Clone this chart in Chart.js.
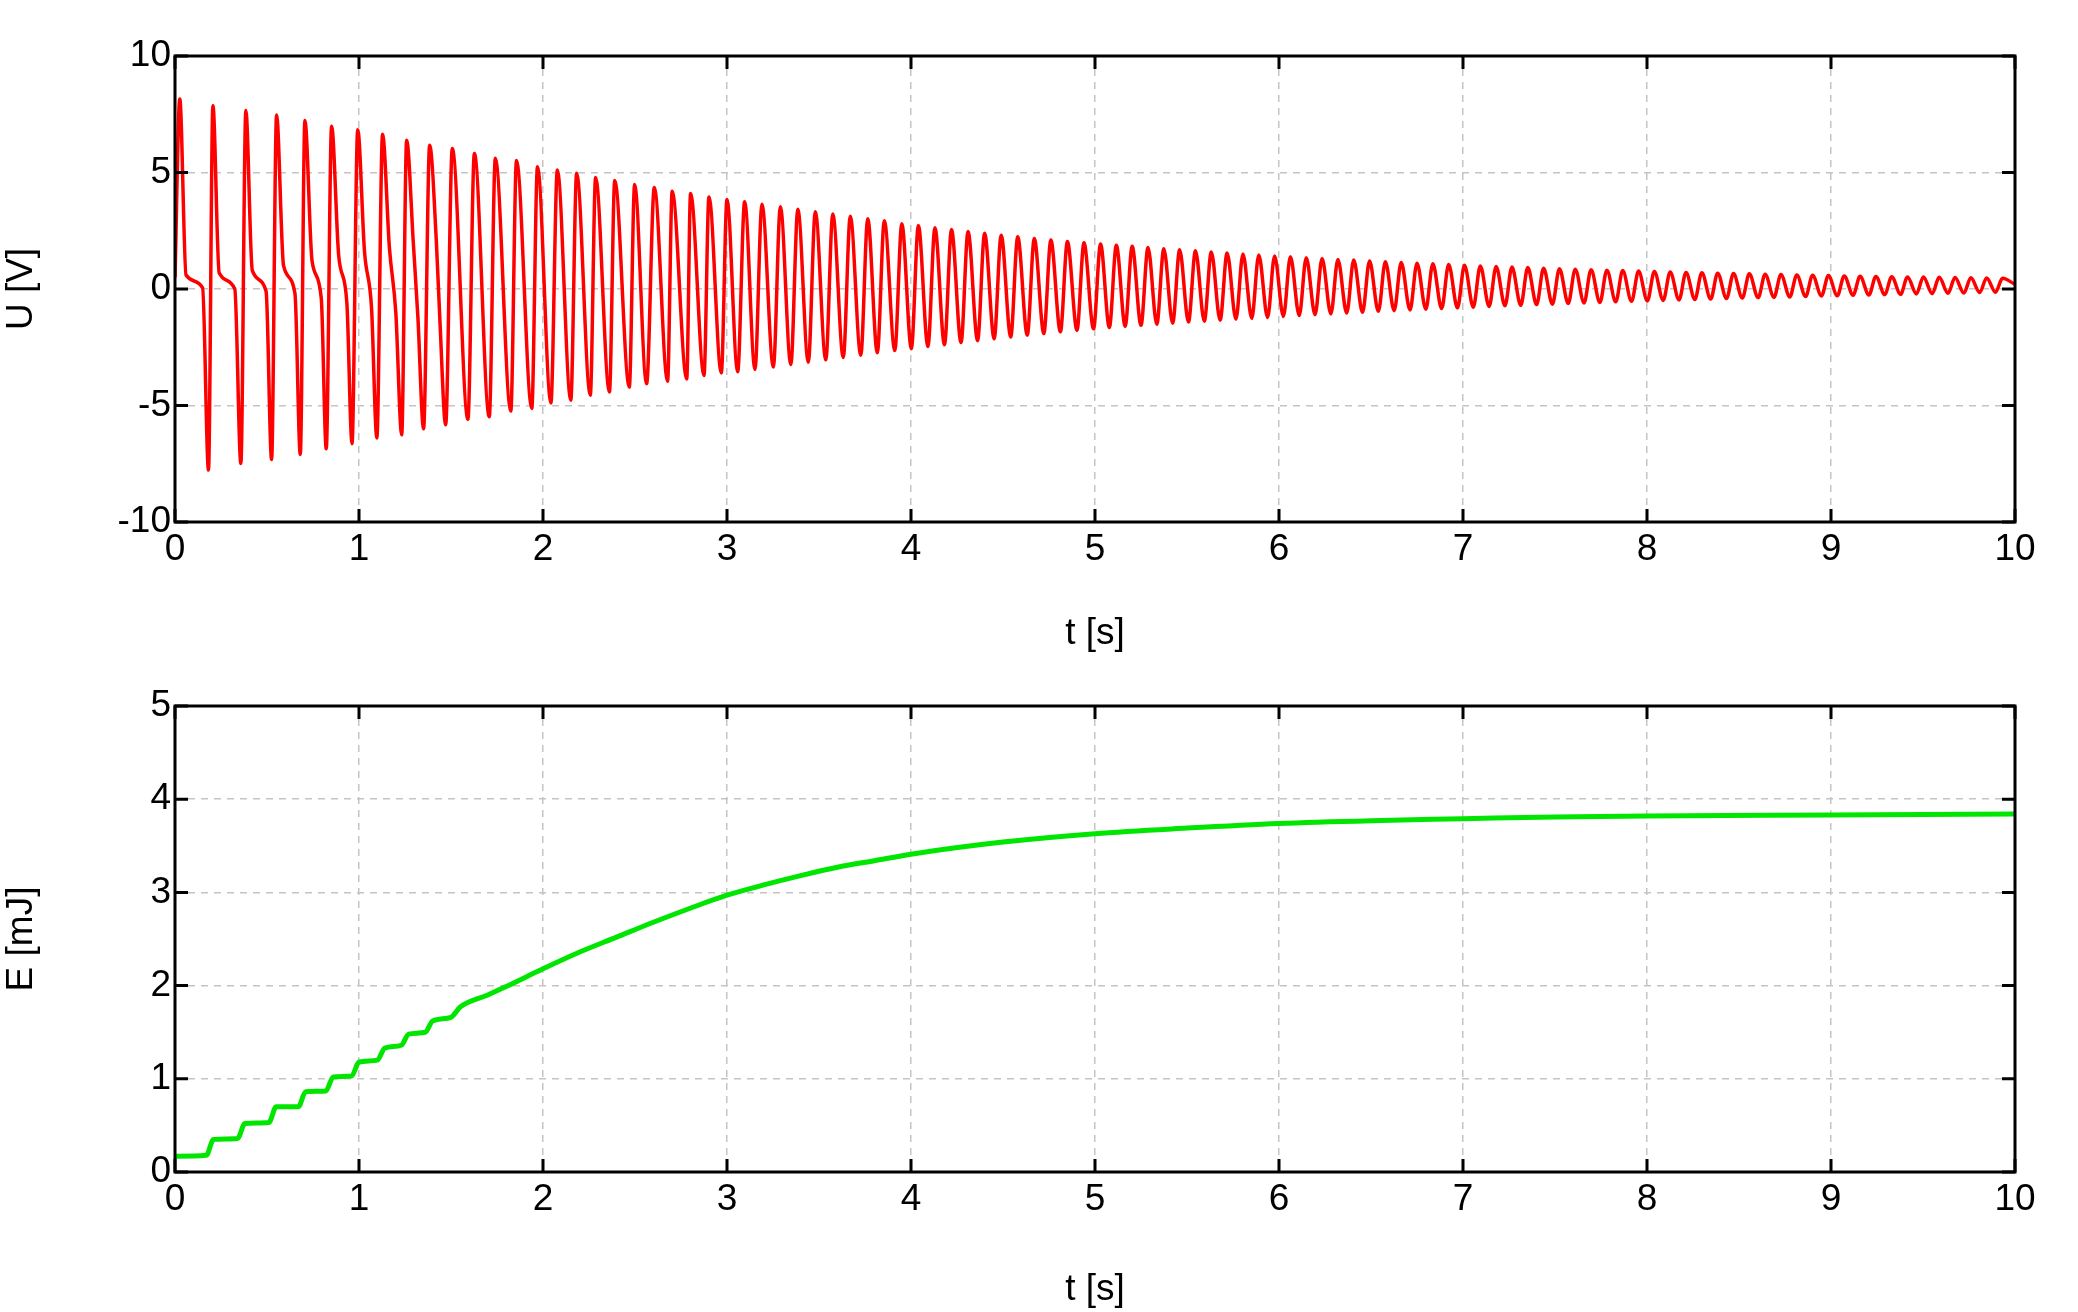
<!DOCTYPE html>
<html>
<head>
<meta charset="utf-8">
<script src="https://cdn.jsdelivr.net/npm/chart.js@4.4.1/dist/chart.umd.min.js"></script>
<style>
  body { margin: 0; background: #fff; }
  .box { position: absolute; left: 0; width: 2078px; height: 656px; }
</style>
</head>
<body>
<div class="box" style="top:0"><canvas id="uChart"></canvas></div>
<div class="box" style="top:656px"><canvas id="eChart"></canvas></div>
<script>
// x ticks shared by both plots
const tTicks = [0, 1, 2, 3, 4, 5, 6, 7, 8, 9, 10];
const uTicks = [-10, -5, 0, 5, 10];
const eTicks = [0, 1, 2, 3, 4, 5];

// U(t): positive peaks
const peakT = [0.026, 0.206, 0.385, 0.552, 0.706, 0.851, 0.993, 1.128, 1.259, 1.384, 1.507, 1.627, 1.741, 1.856, 1.970,
  2.078, 2.183, 2.286, 2.390, 2.498, 2.605, 2.702, 2.802, 2.902, 3.0,
  3.096, 3.19, 3.29, 3.385, 3.48, 3.575, 3.67, 3.765, 3.855, 3.95, 4.04, 4.13, 4.22, 4.31, 4.40, 4.49, 4.58, 4.67, 4.76, 4.85, 4.94, 5.03,
  5.116, 5.202, 5.288, 5.374, 5.46, 5.546, 5.632, 5.718, 5.804, 5.89, 5.976, 6.062, 6.148, 6.234, 6.32, 6.406, 6.492, 6.578, 6.664, 6.75,
  6.836, 6.922, 7.008, 7.094, 7.18, 7.266, 7.352, 7.438, 7.524, 7.61, 7.696, 7.782, 7.868, 7.954, 8.04, 8.126, 8.212, 8.298, 8.384, 8.47,
  8.556, 8.642, 8.728, 8.814, 8.90, 8.986, 9.072, 9.158, 9.244, 9.33, 9.416, 9.502, 9.588, 9.674, 9.76, 9.846, 9.932];
const peakU = [8.15, 7.87, 7.66, 7.47, 7.23, 6.99, 6.84, 6.64, 6.38, 6.17, 6.03, 5.82, 5.61, 5.51, 5.25,
  5.11, 4.97, 4.79, 4.66, 4.48, 4.36, 4.19, 4.10, 3.95, 3.84,
  3.75, 3.64, 3.53, 3.42, 3.32, 3.22, 3.12, 3.02, 2.93, 2.80, 2.72, 2.63, 2.55, 2.47, 2.39, 2.31, 2.24, 2.17, 2.10, 2.04, 1.98, 1.93,
  1.88, 1.83, 1.78, 1.73, 1.68, 1.64, 1.59, 1.55, 1.50, 1.46, 1.42, 1.38, 1.34, 1.31, 1.27, 1.24, 1.20, 1.17, 1.14, 1.11,
  1.08, 1.05, 1.02, 0.99, 0.97, 0.94, 0.92, 0.89, 0.87, 0.85, 0.83, 0.81, 0.79, 0.77, 0.75, 0.73, 0.71, 0.70, 0.68, 0.66,
  0.65, 0.63, 0.62, 0.60, 0.59, 0.58, 0.56, 0.55, 0.54, 0.53, 0.52, 0.51, 0.50, 0.49, 0.48, 0.47, 0.46];

// troughs just before each peak (from the 2nd peak on)
const troughT = [0.182, 0.358, 0.525, 0.681, 0.822, 0.962, 1.097, 1.232, 1.351, 1.471, 1.592, 1.708, 1.825, 1.939,
  2.043, 2.151, 2.257, 2.361, 2.469, 2.563, 2.677, 2.781, 2.875, 2.969];
const troughLead = 0.038; // trough-to-peak gap read after t = 3 s
const troughU = [-7.77, -7.49, -7.32, -7.10, -6.86, -6.64, -6.40, -6.26, -6.00, -5.83, -5.59, -5.48, -5.24, -5.13,
  -4.89, -4.77, -4.56, -4.42, -4.21, -4.07, -3.96, -3.86, -3.71, -3.60,
  -3.55, -3.45, -3.35, -3.24, -3.14, -3.04, -2.94, -2.84, -2.74, -2.64, -2.56, -2.47, -2.39, -2.30, -2.22, -2.14, -2.06, -1.98, -1.91, -1.84, -1.77, -1.71,
  -1.65, -1.60, -1.56, -1.51, -1.47, -1.42, -1.38, -1.34, -1.30, -1.26, -1.22, -1.18, -1.14, -1.10, -1.07, -1.03, -1.00, -0.96, -0.93, -0.90,
  -0.87, -0.84, -0.81, -0.78, -0.75, -0.72, -0.70, -0.67, -0.65, -0.62, -0.60, -0.58, -0.55, -0.53, -0.51, -0.49, -0.47, -0.45, -0.43, -0.41,
  -0.39, -0.37, -0.36, -0.34, -0.32, -0.30, -0.29, -0.27, -0.26, -0.24, -0.23, -0.21, -0.20, -0.18, -0.17, -0.15, -0.14];

// knees of the early spikes: end of the fast fall, end of the plateau
const kneeAT = [0.06, 0.24, 0.42, 0.59, 0.745, 0.89, 1.03, 1.165, 1.295, 1.42];
const kneeAU = [0.6, 0.7, 0.8, 1.0, 1.2, 1.4, 1.6, 1.8, 2.0, 2.1];
const kneeBT = [0.15, 0.325, 0.495, 0.652, 0.795, 0.934, 1.068, 1.20, 1.32, 1.44];
const kneeBU = [0.05, 0.0, -0.1, -0.2, -0.4, -0.6, -0.8, -1.0, -1.2, -1.4];

// E(t) in mJ
const eT = [0, 0.17, 0.21, 0.34, 0.38, 0.51, 0.55, 0.67, 0.71, 0.82, 0.86, 0.96, 1.0, 1.1, 1.14, 1.23, 1.27, 1.36, 1.4, 1.5,
  1.55, 1.7, 1.8, 2.0, 2.2, 2.4, 2.6, 2.8, 3.0, 3.2, 3.4, 3.6, 3.8, 4.0, 4.5, 5.0, 5.5, 6.0, 6.5, 7.0, 7.5, 8.0, 9.0, 10];
const eVal = [0.17, 0.18, 0.35, 0.36, 0.52, 0.53, 0.70, 0.70, 0.86, 0.87, 1.02, 1.03, 1.18, 1.2, 1.33, 1.36, 1.48, 1.5, 1.62, 1.66,
  1.77, 1.9, 1.99, 2.18, 2.36, 2.52, 2.68, 2.83, 2.97, 3.08, 3.18, 3.27, 3.34, 3.41, 3.54, 3.63, 3.69, 3.74, 3.77, 3.79, 3.81, 3.82, 3.83, 3.84];

function buildU() {
  const pts = [{ x: 0, y: 0.5 }];
  peakT.forEach((t, i) => pts.push({ x: t, y: peakU[i] }));
  for (let i = 1; i < peakT.length && i - 1 < troughU.length; i++) {
    const tt = i - 1 < troughT.length ? troughT[i - 1] : peakT[i] - troughLead;
    pts.push({ x: tt, y: troughU[i - 1] });
  }
  kneeAT.forEach((t, i) => pts.push({ x: t, y: kneeAU[i] }));
  kneeBT.forEach((t, i) => pts.push({ x: t, y: kneeBU[i] }));
  pts.push({ x: 10, y: 0.2 });
  return pts.sort((a, b) => a.x - b.x);
}

const FONT = { family: '"Liberation Sans", Arial, sans-serif', size: 37 };

// frame + inward ticks, like the original plot
const framePlugin = {
  id: 'frame',
  afterDraw(chart) {
    const { ctx, chartArea: a, scales } = chart;
    ctx.save();
    ctx.setLineDash([]);
    ctx.strokeStyle = '#000';
    ctx.lineWidth = 3;
    ctx.beginPath();
    scales.x.ticks.forEach(tk => {
      const x = scales.x.getPixelForValue(tk.value);
      ctx.moveTo(x, a.bottom); ctx.lineTo(x, a.bottom - 13);
      ctx.moveTo(x, a.top); ctx.lineTo(x, a.top + 13);
    });
    scales.y.ticks.forEach(tk => {
      const y = scales.y.getPixelForValue(tk.value);
      ctx.moveTo(a.left, y); ctx.lineTo(a.left + 13, y);
      ctx.moveTo(a.right, y); ctx.lineTo(a.right - 13, y);
    });
    ctx.stroke();
    ctx.strokeRect(a.left, a.top, a.right - a.left, a.bottom - a.top);
    ctx.restore();
  }
};

function makeChart(id, data, color, width, yTicks, yTitle, padTop, xHeight) {
  return new Chart(document.getElementById(id), {
    type: 'scatter',
    data: {
      datasets: [{
        data: data,
        showLine: true,
        borderColor: color,
        borderWidth: width,
        pointRadius: 0,
        cubicInterpolationMode: 'monotone'
      }]
    },
    options: {
      responsive: true,
      maintainAspectRatio: false,
      animation: false,
      layout: { padding: { top: padTop, right: 63, left: 0, bottom: 0 } },
      plugins: { legend: { display: false }, tooltip: { enabled: false } },
      scales: {
        x: {
          type: 'linear', min: 0, max: 10,
          afterBuildTicks: s => { s.ticks = tTicks.map(v => ({ value: v })); },
          ticks: { font: FONT, color: '#000', padding: 6, maxRotation: 0 },
          grid: { color: '#c4c4c4', lineWidth: 1.5, drawTicks: false },
          border: { display: false, dash: [7, 6] },
          title: { display: true, text: 't [s]', font: FONT, color: '#000', padding: 0 },
          afterFit: s => { s.height = xHeight; }
        },
        y: {
          type: 'linear', min: yTicks[0], max: yTicks[yTicks.length - 1],
          afterBuildTicks: s => { s.ticks = yTicks.map(v => ({ value: v })); },
          ticks: { font: FONT, color: '#000', padding: 4 },
          grid: { color: '#c4c4c4', lineWidth: 1.5, drawTicks: false },
          border: { display: false, dash: [7, 6] },
          title: { display: true, text: yTitle, font: FONT, color: '#000', padding: 0 },
          afterFit: s => { s.width = 175; }
        }
      }
    },
    plugins: [framePlugin]
  });
}

makeChart('uChart', buildU(), '#ff0000', 3.5, uTicks, 'U [V]', 56, 134);
makeChart('eChart', eT.map((t, i) => ({ x: t, y: eVal[i] })), '#00e600', 5, eTicks, 'E [mJ]', 50, 140);
</script>
</body>
</html>
